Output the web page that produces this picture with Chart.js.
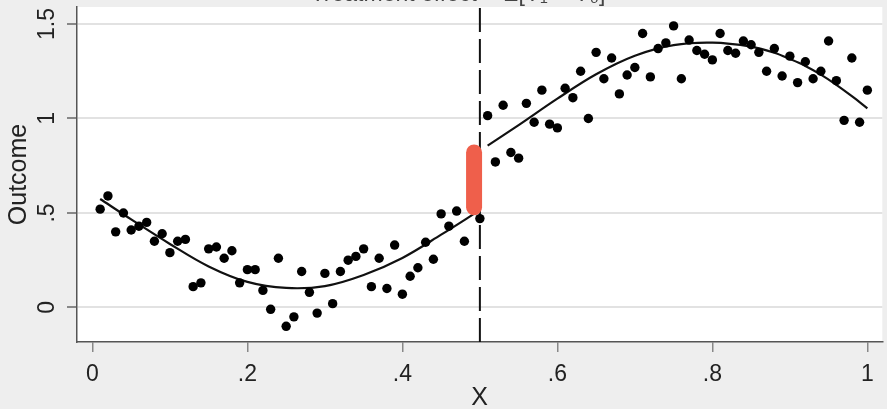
<!DOCTYPE html>
<html>
<head>
<meta charset="utf-8">
<script src="https://cdn.jsdelivr.net/npm/chart.js@4.4.1/dist/chart.umd.min.js"></script>
<style>
  html, body { margin: 0; padding: 0; background: #eeeeee; }
  #wrap { width: 887px; height: 409px; }
</style>
</head>
<body>
<div id="wrap"><canvas id="rdChart"></canvas></div>
<script>
// binned means of the outcome
const binX = [
  0.01, 0.02, 0.03, 0.04, 0.05, 0.06, 0.07, 0.08, 0.09, 0.10,
  0.11, 0.12, 0.13, 0.14, 0.15, 0.16, 0.17, 0.18, 0.19, 0.20,
  0.21, 0.22, 0.23, 0.24, 0.25, 0.26, 0.27, 0.28, 0.29, 0.30,
  0.31, 0.32, 0.33, 0.34, 0.35, 0.36, 0.37, 0.38, 0.39, 0.40,
  0.41, 0.42, 0.43, 0.44, 0.45, 0.46, 0.47, 0.48, 0.49, 0.50,
  0.51, 0.52, 0.53, 0.54, 0.55, 0.56, 0.57, 0.58, 0.59, 0.60,
  0.61, 0.62, 0.63, 0.64, 0.65, 0.66, 0.67, 0.68, 0.69, 0.70,
  0.71, 0.72, 0.73, 0.74, 0.75, 0.76, 0.77, 0.78, 0.79, 0.80,
  0.81, 0.82, 0.83, 0.84, 0.85, 0.86, 0.87, 0.88, 0.89, 0.90,
  0.91, 0.92, 0.93, 0.94, 0.95, 0.96, 0.97, 0.98, 0.99, 1.00
];
const binY = [
  0.52, 0.59, 0.40, 0.50, 0.41, 0.43, 0.45, 0.35, 0.39, 0.29,
  0.35, 0.36, 0.11, 0.13, 0.31, 0.32, 0.26, 0.30, 0.13, 0.20,
  0.20, 0.09, -0.01, 0.26, -0.10, -0.05, 0.19, 0.08, -0.03, 0.18,
  0.02, 0.19, 0.25, 0.27, 0.31, 0.11, 0.26, 0.10, 0.33, 0.07,
  0.165, 0.21, 0.345, 0.255, 0.495, 0.43, 0.51, 0.35, 0.55, 0.47,
  1.015, 0.77, 1.07, 0.82, 0.79, 1.08, 0.98, 1.15, 0.97, 0.95,
  1.16, 1.11, 1.25, 1.00, 1.35, 1.21, 1.32, 1.13, 1.23, 1.27,
  1.45, 1.22, 1.37, 1.40, 1.49, 1.21, 1.415, 1.36, 1.34, 1.31,
  1.45, 1.36, 1.345, 1.41, 1.39, 1.35, 1.25, 1.37, 1.225, 1.33,
  1.19, 1.30, 1.21, 1.25, 1.41, 1.20, 0.99, 1.32, 0.98, 1.15
];

// fitted curves either side of the cutoff
const leftFitX = [0.01, 0.05, 0.10, 0.15, 0.20, 0.25, 0.30, 0.35, 0.40, 0.45, 0.50];
const leftFitY = [0.574, 0.466, 0.336, 0.217, 0.135, 0.103, 0.113, 0.172, 0.262, 0.385, 0.515];
const rightFitX = [0.51, 0.55, 0.60, 0.65, 0.70, 0.75, 0.80, 0.85, 0.88, 0.90, 0.92, 0.94, 0.96, 0.98, 1.00];
const rightFitY = [0.856, 0.965, 1.105, 1.234, 1.332, 1.388, 1.401, 1.38, 1.348, 1.315, 1.278, 1.232, 1.178, 1.118, 1.054];

const cutoff = 0.5;
const ciX = 0.4925;
const ciY = [0.53, 0.82];

const xTicks = [0, 0.2, 0.4, 0.6, 0.8, 1];
const yTicks = [0, 0.5, 1, 1.5];
const xRange = [-0.0199, 1.0193];
const yRange = [-0.183, 1.59];

const FONT = "'Liberation Sans', Arial, sans-serif";
const fmt = v => String(v).replace(/^0\./, '.').replace(/^-0\./, '-.');

const pts = (xs, ys) => xs.map((x, i) => ({ x: x, y: ys[i] }));

const backdrop = {
  id: 'backdrop',
  beforeDraw(chart) {
    const { ctx, chartArea: a } = chart;
    ctx.save();
    ctx.fillStyle = '#eeeeee';
    ctx.fillRect(0, 0, chart.width, chart.height);
    ctx.fillStyle = '#ffffff';
    ctx.fillRect(a.left, a.top, a.right - a.left, a.bottom - a.top);
    ctx.restore();
  }
};

// stata-style vertical y labels + the clipped title at the top
const extras = {
  id: 'extras',
  afterDraw(chart) {
    const { ctx } = chart;
    const ys = chart.scales.y;
    ctx.save();
    ctx.fillStyle = '#222';
    ctx.font = '23px ' + FONT;
    ctx.textAlign = 'center';
    ctx.textBaseline = 'middle';
    ys.ticks.forEach(t => {
      const py = ys.getPixelForValue(t.value);
      ctx.save();
      ctx.translate(48, py);
      ctx.rotate(-Math.PI / 2);
      ctx.fillText(fmt(t.value), 0, 0);
      ctx.restore();
    });
    ctx.textBaseline = 'alphabetic';
    ctx.fillStyle = '#444';
    ctx.fillText('Treatment effect = E[Y\u2081 \u2212 Y\u2080]', 458, 0.5);
    ctx.restore();
  }
};

new Chart(document.getElementById('rdChart'), {
  type: 'scatter',
  data: {
    datasets: [
      {
        type: 'line',
        data: [{ x: ciX, y: ciY[0] }, { x: ciX, y: ciY[1] }],
        borderColor: '#ef5f4b',
        borderWidth: 16,
        borderCapStyle: 'round',
        pointRadius: 0
      },
      {
        data: pts(binX, binY),
        pointRadius: 4.7,
        backgroundColor: '#000',
        borderWidth: 0
      },
      {
        type: 'line',
        data: pts(leftFitX, leftFitY),
        borderColor: '#111',
        borderWidth: 2.2,
        tension: 0.35,
        pointRadius: 0
      },
      {
        type: 'line',
        data: pts(rightFitX, rightFitY),
        borderColor: '#111',
        borderWidth: 2.2,
        tension: 0.35,
        pointRadius: 0
      },
      {
        type: 'line',
        data: [{ x: cutoff, y: yRange[0] }, { x: cutoff, y: yRange[1] }],
        borderColor: '#111',
        borderWidth: 2,
        borderDash: [24, 7],
        pointRadius: 0
      }
    ]
  },
  options: {
    responsive: true,
    maintainAspectRatio: false,
    animation: false,
    layout: { padding: { top: 7, right: 2, left: 0, bottom: 0 } },
    plugins: { legend: { display: false }, tooltip: { enabled: false } },
    scales: {
      x: {
        type: 'linear',
        min: xRange[0],
        max: xRange[1],
        afterBuildTicks: s => { s.ticks = xTicks.map(v => ({ value: v })); },
        afterFit: s => { s.height = 67; },
        grid: { drawOnChartArea: false, tickLength: 10, tickColor: '#888', lineWidth: 1.5 },
        border: { color: '#555', width: 1.5 },
        ticks: { color: '#222', font: { family: FONT, size: 23 }, padding: 9, maxRotation: 0, callback: v => fmt(v) },
        title: { display: true, text: 'X', color: '#222', font: { family: FONT, size: 25, lineHeight: 0.9 }, padding: 0 }
      },
      y: {
        min: yRange[0],
        max: yRange[1],
        afterBuildTicks: s => { s.ticks = yTicks.map(v => ({ value: v })); },
        afterFit: s => { s.width = 77; },
        grid: { color: '#e2e2e2', lineWidth: 2, tickLength: 10, tickColor: '#888' },
        border: { color: '#555', width: 1.5 },
        ticks: { display: false },
        title: { display: true, text: 'Outcome', color: '#222', font: { family: FONT, size: 25 }, padding: { top: 4, bottom: 0 } }
      }
    }
  },
  plugins: [backdrop, extras]
});
</script>
</body>
</html>
